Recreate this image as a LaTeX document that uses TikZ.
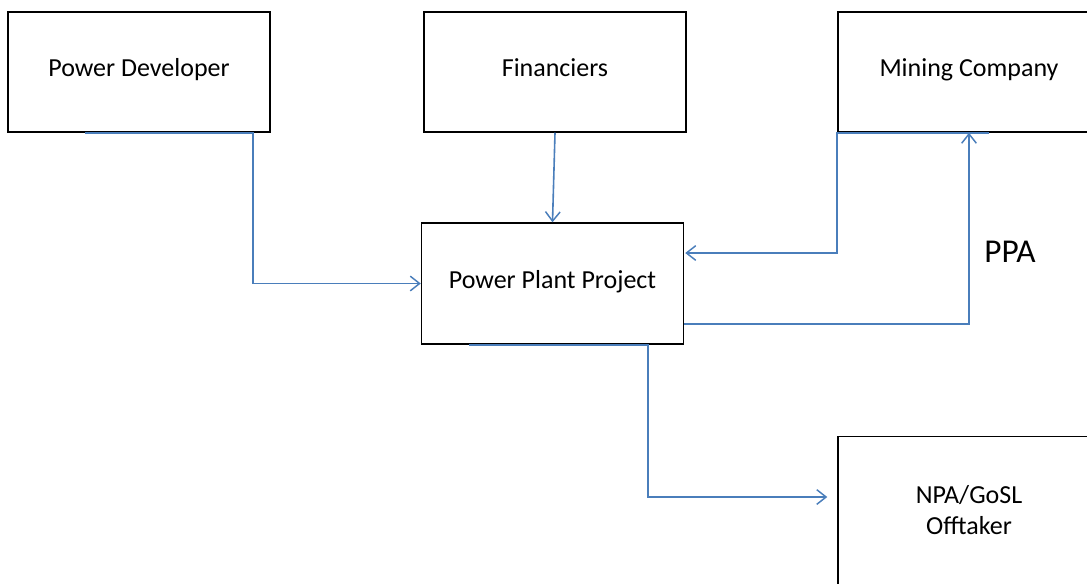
\documentclass[tikz,border=0pt]{standalone}
\usepackage{fontspec}
\setmainfont{Carlito}
\usetikzlibrary{arrows.meta,calc}
\definecolor{connblue}{HTML}{4A7EBB}
\tikzset{
  box/.style={draw=black, line width=1.1pt, fill=white, inner sep=0pt,
    minimum width=196.5pt, minimum height=90pt, align=center,
    font=\fontsize{19.5}{23}\selectfont},
  onebox/.style={box, text height=0.8em, text depth=0.1em},
  conn/.style={draw=connblue, line width=1.2pt,
    -{Straight Barb[length=7pt,width=11pt,line width=1.1pt]}}
}
\begin{document}
\begin{tikzpicture}[x=0.75pt,y=-0.75pt]
\useasboundingbox (0,0) rectangle (1087,583);
\clip (0,0) rectangle (1087,583);
\fill[white] (0,0) rectangle (1087,583);
\node[onebox] (PD) at (139,72) {Power Developer};
\node[onebox] (FIN) at (555,72) {Financiers};
\node[onebox] (MC) at (969,72) {Mining Company};
\node[onebox, minimum height=90.75pt] (PPP) at (552.5,283.5) {Power Plant Project};
\node[box, minimum height=115pt] (NPA) at (969,513) {\raisebox{3pt}{\begin{tabular}{@{}c@{}}NPA/GoSL\\Offtaker\end{tabular}}};
\node[font=\fontsize{25}{30}\selectfont] (PPA) at (1010,252) {PPA};
\coordinate (ppin) at ($(PPP.east)+(1,-30.5)$);
\coordinate (ppout) at ($(PPP.east)+(0,40.5)$);
\coordinate (npain) at ($(NPA.west)+(-10,-16)$);
\draw[conn] (PD.south west) ++(78,0) -- ++(168,0) |- (PPP.west);
\draw[conn] (FIN.south) -- (PPP.north);
\draw[conn] ($(MC.south west)+(152,0)$) -- (MC.south west) |- (ppin);
\draw[conn] (ppout) -| (MC.south);
\draw[conn] ($(PPP.south west)+(48,0)$) -- ++(179,0) |- (npain);
\end{tikzpicture}
\end{document}
